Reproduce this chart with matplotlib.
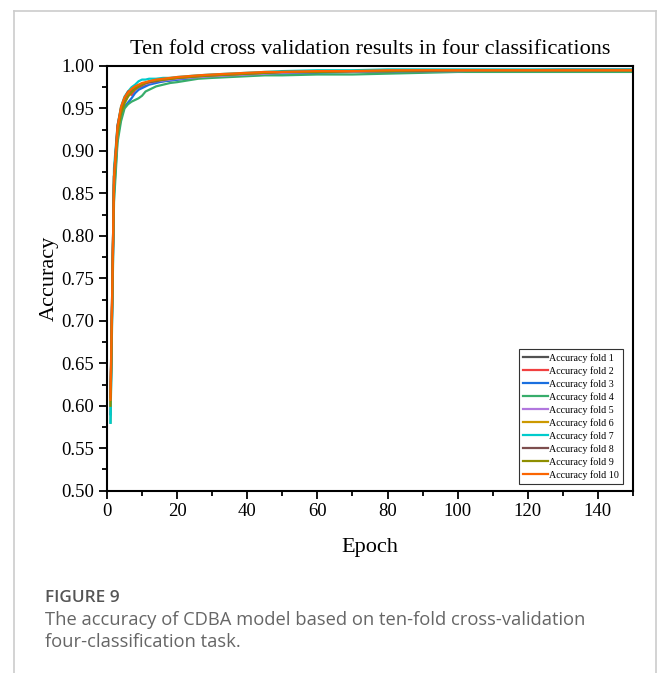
import matplotlib
matplotlib.use("Agg")
import matplotlib.pyplot as plt
from matplotlib.lines import Line2D
from matplotlib.ticker import MultipleLocator, FormatStrFormatter

epochs = [1, 2, 3, 4, 5, 6, 7, 8, 9, 10, 11, 12, 14, 16, 18, 20, 23, 26, 30,
          35, 40, 45, 50, 60, 70, 80, 90, 100, 110, 120, 130, 140, 150]

fold1 = [0.610, 0.870, 0.925, 0.948, 0.958, 0.965, 0.970, 0.973, 0.975, 0.977, 0.978,
         0.979, 0.981, 0.982, 0.983, 0.984, 0.986, 0.987, 0.988, 0.989, 0.990, 0.991,
         0.992, 0.993, 0.993, 0.994, 0.994, 0.995, 0.995, 0.995, 0.995, 0.995, 0.995]
fold2 = [0.600, 0.860, 0.920, 0.945, 0.960, 0.968, 0.966, 0.972, 0.975, 0.976, 0.978,
         0.980, 0.981, 0.983, 0.984, 0.985, 0.986, 0.987, 0.988, 0.989, 0.990, 0.991,
         0.992, 0.993, 0.994, 0.994, 0.994, 0.995, 0.995, 0.995, 0.996, 0.996, 0.996]
fold3 = [0.590, 0.850, 0.915, 0.940, 0.952, 0.957, 0.962, 0.968, 0.972, 0.974, 0.976,
         0.978, 0.980, 0.982, 0.983, 0.984, 0.985, 0.987, 0.988, 0.989, 0.990, 0.991,
         0.991, 0.992, 0.993, 0.993, 0.994, 0.994, 0.994, 0.995, 0.995, 0.995, 0.995]
fold4 = [0.580, 0.840, 0.910, 0.935, 0.950, 0.955, 0.958, 0.960, 0.962, 0.965, 0.970,
         0.972, 0.976, 0.978, 0.980, 0.981, 0.983, 0.985, 0.986, 0.987, 0.988, 0.989,
         0.989, 0.990, 0.990, 0.991, 0.992, 0.993, 0.993, 0.993, 0.993, 0.993, 0.993]
fold5 = [0.600, 0.860, 0.922, 0.946, 0.958, 0.966, 0.970, 0.974, 0.976, 0.978, 0.979,
         0.980, 0.982, 0.983, 0.984, 0.985, 0.986, 0.987, 0.988, 0.989, 0.990, 0.991,
         0.992, 0.993, 0.993, 0.994, 0.994, 0.994, 0.995, 0.995, 0.995, 0.995, 0.995]
fold6 = [0.600, 0.870, 0.925, 0.950, 0.962, 0.968, 0.972, 0.975, 0.977, 0.979, 0.980,
         0.981, 0.983, 0.984, 0.985, 0.986, 0.987, 0.988, 0.989, 0.990, 0.991, 0.992,
         0.993, 0.993, 0.994, 0.994, 0.995, 0.995, 0.995, 0.995, 0.995, 0.995, 0.995]
fold7 = [0.580, 0.880, 0.930, 0.952, 0.964, 0.970, 0.975, 0.978, 0.982, 0.984, 0.984,
         0.985, 0.985, 0.986, 0.986, 0.987, 0.988, 0.989, 0.990, 0.991, 0.992, 0.993,
         0.994, 0.995, 0.995, 0.996, 0.996, 0.996, 0.996, 0.996, 0.996, 0.996, 0.996]
fold8 = [0.610, 0.870, 0.930, 0.950, 0.962, 0.970, 0.971, 0.974, 0.976, 0.978, 0.980,
         0.981, 0.982, 0.984, 0.985, 0.986, 0.987, 0.988, 0.989, 0.990, 0.991, 0.992,
         0.993, 0.993, 0.994, 0.994, 0.994, 0.995, 0.995, 0.995, 0.995, 0.995, 0.995]
fold9 = [0.600, 0.860, 0.920, 0.944, 0.956, 0.964, 0.969, 0.973, 0.976, 0.978, 0.980,
         0.982, 0.983, 0.984, 0.985, 0.986, 0.987, 0.988, 0.989, 0.990, 0.991, 0.992,
         0.993, 0.993, 0.994, 0.994, 0.995, 0.995, 0.995, 0.995, 0.995, 0.995, 0.995]
fold10 = [0.607, 0.870, 0.928, 0.952, 0.963, 0.969, 0.973, 0.976, 0.978, 0.980, 0.981,
          0.982, 0.984, 0.985, 0.986, 0.987, 0.988, 0.989, 0.990, 0.991, 0.992, 0.993,
          0.993, 0.994, 0.994, 0.995, 0.995, 0.995, 0.995, 0.995, 0.995, 0.995, 0.995]

folds = [fold1, fold2, fold3, fold4, fold5, fold6, fold7, fold8, fold9, fold10]
labels = ["Accuracy fold %d" % i for i in range(1, 11)]
colors = ["#515151", "#F14040", "#1A6FDF", "#37AD6B", "#B177DE",
          "#CC9900", "#00CBCC", "#7D4E4E", "#8E8E00", "#FB6501"]

plt.rcParams["font.family"] = ["Liberation Serif", "DejaVu Serif"]

fig = plt.figure(figsize=(6.57, 6.73), dpi=100)
ax = fig.add_axes([107 / 657, 1 - 490.7 / 673, (633 - 107) / 657, (490.7 - 66) / 673])

for ys, lab, c in zip(folds, labels, colors):
    ax.plot(epochs, ys, color=c, lw=1.6, label=lab)

ax.set_xlim(0, 150)
ax.set_ylim(0.5, 1.0)
ax.xaxis.set_major_locator(MultipleLocator(20))
ax.xaxis.set_minor_locator(MultipleLocator(10))
ax.yaxis.set_major_locator(MultipleLocator(0.05))
ax.yaxis.set_minor_locator(MultipleLocator(0.025))
ax.yaxis.set_major_formatter(FormatStrFormatter("%.2f"))
ax.tick_params(which="major", direction="out", length=6, width=1.3, labelsize=13.5, pad=3)
ax.tick_params(which="minor", direction="out", length=3.5, width=1.3)
for sp in ax.spines.values():
    sp.set_linewidth(1.5)

ax.set_title("Ten fold cross validation results in four classifications",
             fontsize=16, pad=9)
ax.set_xlabel("Epoch", fontsize=16, labelpad=13)
ax.set_ylabel("Accuracy", fontsize=16, labelpad=2)

leg = ax.legend(loc="lower right", bbox_to_anchor=(0.981, 0.016), borderaxespad=0,
                fancybox=False, prop={"size": 7.2}, handlelength=2.5,
                handletextpad=0.15, labelspacing=0.33, borderpad=0.4, framealpha=1)
leg.get_frame().set_edgecolor("#333333")
leg.get_frame().set_linewidth(0.8)

# light grey frame around the panel
fw, fh = 657, 673
for (x0, y0, x1, y1) in [(14, 11, 656, 11), (14, 11, 14, 673), (656, 11, 656, 673)]:
    fig.add_artist(Line2D([x0 / fw, x1 / fw], [1 - y0 / fh, 1 - y1 / fh],
                          color="#cccccc", lw=1.2, transform=fig.transFigure))

cap = ["Open Sans", "DejaVu Sans"]
fig.text(45 / fw, 1 - 598 / fh, "FIGURE 9", family=cap, fontsize=12.3, color="#555555",
         weight="semibold", va="center")
fig.text(45 / fw, 1 - 620 / fh, "The accuracy of CDBA model based on ten-fold cross-validation",
         family=cap, fontsize=13.2, color="#666666", va="center")
fig.text(45 / fw, 1 - 642 / fh, "four-classification task.",
         family=cap, fontsize=13.2, color="#666666", va="center")

fig.savefig("out.png", dpi=100)
